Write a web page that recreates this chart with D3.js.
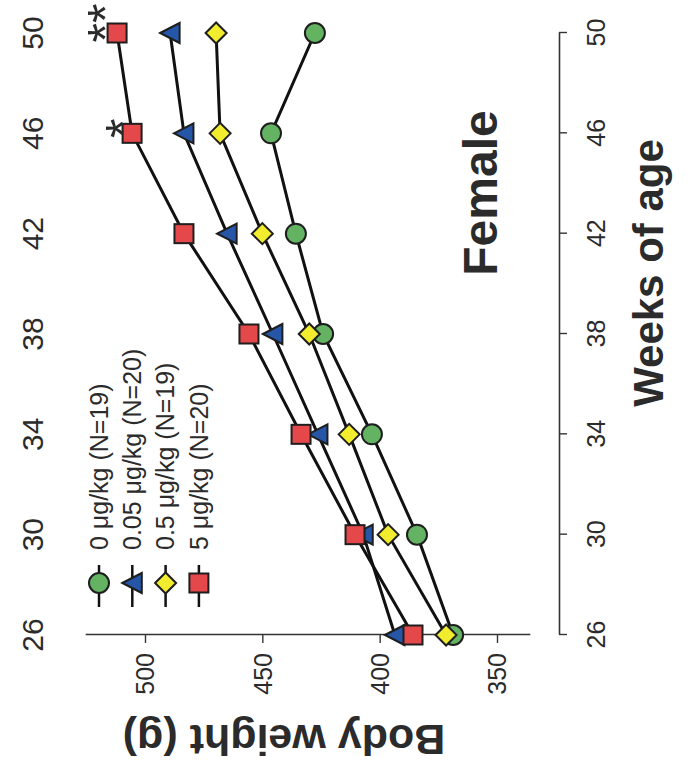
<!DOCTYPE html>
<html>
<head>
<meta charset="utf-8">
<script src="https://cdn.jsdelivr.net/npm/d3@7"></script>
<style>
  html, body { margin: 0; padding: 0; background: #fff; }
  svg { display: block; }
  text { font-family: "Liberation Sans", Arial, sans-serif; fill: #2b2b2b; }
</style>
</head>
<body>
<script>
// Female body weight by week of age, drawn rotated 90 degrees like the scanned figure

var weeks = [26, 30, 34, 38, 42, 46, 50];
var weekTicks = [26, 30, 34, 38, 42, 46, 50];
var weightTicks = [350, 400, 450, 500];

var seriesNames = ['0 \u03bcg/kg (N=19)', '0.05 \u03bcg/kg (N=20)', '0.5 \u03bcg/kg (N=19)', '5 \u03bcg/kg (N=20)'];
var dose0    = [368.7, 384.1, 403.3, 424.1, 435.7, 446.3, 427.6];
var dose005  = [393.5, 407.0, 426.3, 445.5, 465.0, 483.4, 489.3];
var dose05   = [371.7, 396.4, 413.0, 430.0, 450.0, 468.0, 469.7];
var dose5    = [385.8, 410.5, 433.5, 455.7, 483.4, 505.5, 511.9];
var seriesValues = [dose0, dose005, dose05, dose5];

// significance marks (week, label)
var sigWeeks = [46, 50];
var sigLabels = ['*', '**'];

var shapes = ['circle', 'triangle', 'diamond', 'square'];
var colors = ['#63b363', '#2556a8', '#f2ec2e', '#e4484b'];

var W = 691, H = 765;

var svg = d3.select('body').append('svg')
    .attr('width', W)
    .attr('height', H);

// whole chart is laid out normally, then turned a quarter turn counter-clockwise
var g = svg.append('g')
    .attr('transform', 'translate(0,' + H + ') rotate(-90)');

var x = d3.scaleLinear().domain([26, 50]).range([130, 732]);
var y = d3.scaleLinear().domain([350, 500]).range([497, 145]);
var yLine = d3.scaleLinear().domain([336, 525.5]).range([y(336), y(525.5)]);

// week axis
var xAxis = g.append('g')
    .attr('transform', 'translate(0,559)')
    .call(d3.axisBottom(x).tickValues(weekTicks).tickSize(8).tickSizeOuter(0).tickFormat(d3.format('d')));
xAxis.select('.domain').attr('stroke', '#333').attr('stroke-width', 1.6);
xAxis.selectAll('.tick line').attr('stroke', '#333').attr('stroke-width', 1.4);
xAxis.selectAll('.tick text')
    .attr('y', 46).attr('dy', 0)
    .attr('font-size', 25)
    .attr('fill', '#2b2b2b')
    .style('font-family', '"Liberation Sans", Arial, sans-serif');

// weight axis
var yAxis = g.append('g')
    .attr('transform', 'translate(130,0)')
    .call(d3.axisLeft(yLine).tickValues(weightTicks).tickSize(8).tickSizeOuter(0).tickFormat(d3.format('d')));
yAxis.select('.domain').attr('stroke', '#333').attr('stroke-width', 1.6);
yAxis.selectAll('.tick line').attr('stroke', '#333').attr('stroke-width', 1.4);
yAxis.selectAll('.tick text')
    .attr('x', -18).attr('dy', '0.35em')
    .attr('font-size', 25)
    .attr('fill', '#2b2b2b')
    .style('font-family', '"Liberation Sans", Arial, sans-serif');

// labels of the neighbouring panel, cut off in the scan
g.append('g').selectAll('text')
    .data(weekTicks)
    .enter().append('text')
    .attr('x', function(d) { return x(d); })
    .attr('y', 43)
    .attr('text-anchor', 'middle')
    .attr('font-size', 30)
    .text(function(d) { return d; });

// titles
g.append('text')
    .attr('x', 492).attr('y', 663)
    .attr('text-anchor', 'middle')
    .attr('font-size', 42)
    .attr('font-weight', 'bold')
    .text('Weeks of age');

g.append('text')
    .attr('x', 572).attr('y', 497)
    .attr('text-anchor', 'middle')
    .attr('font-size', 48)
    .attr('font-weight', 'bold')
    .text('Female');

g.append('text')
    .attr('transform', 'translate(40,284) rotate(-90)')
    .attr('text-anchor', 'middle')
    .attr('font-size', 43)
    .attr('font-weight', 'bold')
    .text('Body weight (g)');

// marker drawing
function marker(sel, shape, color) {
    var p;
    if (shape === 'circle') {
        p = sel.append('circle').attr('r', 10);
    } else if (shape === 'square') {
        p = sel.append('rect').attr('x', -9.5).attr('y', -9.5).attr('width', 19).attr('height', 19);
    } else if (shape === 'diamond') {
        p = sel.append('path').attr('d', 'M0,-10.5L10.5,0L0,10.5L-10.5,0Z');
    } else {
        p = sel.append('path').attr('d', 'M0,-10L10,9.5L-10,9.5Z');
    }
    p.attr('fill', color).attr('stroke', '#1e1e1e').attr('stroke-width', 2);
}

var line = d3.line()
    .x(function(d, i) { return x(weeks[i]); })
    .y(function(d) { return y(d); });

seriesValues.forEach(function(vals) {
    g.append('path')
        .datum(vals)
        .attr('fill', 'none')
        .attr('stroke', '#111')
        .attr('stroke-width', 3)
        .attr('d', line);
});

seriesValues.forEach(function(vals, s) {
    vals.forEach(function(v, i) {
        var m = g.append('g').attr('transform', 'translate(' + x(weeks[i]) + ',' + y(v) + ')');
        marker(m, shapes[s], colors[s]);
    });
});

// asterisks over the highest dose
var starSize = 50;
sigWeeks.forEach(function(wk, k) {
    var idx = weeks.indexOf(wk);
    var px = x(wk) + (k === 0 ? 5 : 10);
    var py = y(dose5[idx]) - (k === 0 ? 20 : 23);
    g.append('text')
        .attr('x', px)
        .attr('y', py + 0.58 * starSize)
        .attr('text-anchor', 'middle')
        .attr('font-size', starSize)
        .text(sigLabels[k]);
});

// legend
var legend = g.append('g');
seriesNames.forEach(function(name, s) {
    var ly = 99 + s * 33.3;
    legend.append('line')
        .attr('x1', 158).attr('x2', 200)
        .attr('y1', ly).attr('y2', ly)
        .attr('stroke', '#111').attr('stroke-width', 2.5);
    var m = legend.append('g').attr('transform', 'translate(182,' + ly + ')');
    marker(m, shapes[s], colors[s]);
    legend.append('text')
        .attr('x', 215).attr('y', ly)
        .attr('dy', '0.35em')
        .attr('font-size', 25)
        .attr('fill', '#333')
        .text(name);
});
</script>
</body>
</html>
